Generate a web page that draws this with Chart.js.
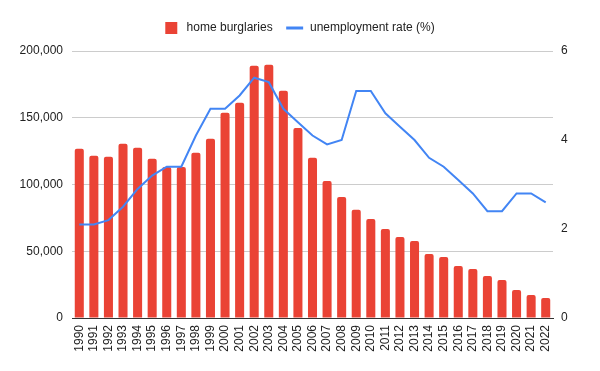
<!DOCTYPE html>
<html>
<head>
<meta charset="utf-8">
<script src="https://cdn.jsdelivr.net/npm/chart.js@4/dist/chart.umd.min.js"></script>
<style>
  html, body { margin: 0; padding: 0; background: #fff; }
  #wrap { width: 600px; height: 371px; }
</style>
</head>
<body>
<div id="wrap"><canvas id="chart" width="600" height="371"></canvas></div>
<script>
// values
var years = ['1990', '1991', '1992', '1993', '1994', '1995', '1996', '1997', '1998', '1999',
  '2000', '2001', '2002', '2003', '2004', '2005', '2006', '2007', '2008', '2009',
  '2010', '2011', '2012', '2013', '2014', '2015', '2016', '2017', '2018', '2019',
  '2020', '2021', '2022'];

var burglaries = [126700, 121500, 120700, 130500, 127500, 119200, 113200, 113200, 123700, 134200,
  153700, 161200, 188900, 189700, 170200, 142400, 120000, 102700, 90700, 81000,
  74200, 66700, 60700, 57700, 48000, 45700, 39000, 36700, 31500, 28500,
  21000, 17200, 15000];

var unemployment = [2.1, 2.1, 2.2, 2.5, 2.9, 3.2, 3.4, 3.4, 4.1, 4.7,
  4.7, 5.0, 5.4, 5.3, 4.7, 4.4, 4.1, 3.9, 4.0, 5.1,
  5.1, 4.6, 4.3, 4.0, 3.6, 3.4, 3.1, 2.8, 2.4, 2.4,
  2.8, 2.8, 2.6];

var FONT = 'Liberation Sans, Arial, sans-serif';
var TEXT = '#222222';

// a bit of extra room under the legend, like the original
var legendPad = {
  id: 'legendPad',
  beforeInit: function (chart) {
    var fit = chart.legend.fit;
    chart.legend.fit = function () {
      fit.bind(chart.legend)();
      this.height += 7;
    };
  }
};

new Chart(document.getElementById('chart'), {
  type: 'bar',
  data: {
    labels: years,
    datasets: [{
      type: 'line',
      label: 'unemployment rate (%)',
      data: unemployment,
      yAxisID: 'y1',
      borderColor: '#4285f4',
      backgroundColor: '#4285f4',
      borderWidth: 2,
      pointRadius: 0,
      tension: 0,
      pointStyle: 'line',
      order: 0
    }, {
      label: 'home burglaries',
      data: burglaries,
      yAxisID: 'y',
      backgroundColor: '#ea4335',
      borderRadius: { topLeft: 2, topRight: 2 },
      borderSkipped: 'bottom',
      barPercentage: 0.62,
      categoryPercentage: 1,
      pointStyle: 'rect',
      order: 1
    }]
  },
  options: {
    responsive: false,
    animation: false,
    layout: { padding: { top: 6 } },
    plugins: {
      tooltip: { enabled: false },
      legend: {
        position: 'top',
        reverse: true,
        labels: {
          usePointStyle: true,
          boxWidth: 12,
          boxHeight: 12,
          padding: 16,
          color: TEXT,
          font: { family: FONT, size: 12 },
          generateLabels: function (chart) {
            var items = Chart.defaults.plugins.legend.labels.generateLabels(chart);
            items.forEach(function (it) {
              it.text = ' ' + it.text;
              if (it.pointStyle === 'line') it.lineWidth = 3;
            });
            return items;
          }
        }
      }
    },
    scales: {
      x: {
        grid: { display: false, drawTicks: false },
        border: { display: true, color: '#333333', width: 1 },
        ticks: {
          color: TEXT, font: { family: FONT, size: 12 },
          minRotation: 90, maxRotation: 90, autoSkip: false, padding: 7
        },
        afterFit: function (s) { s.height = 53; }
      },
      y: {
        position: 'left',
        min: 0, max: 200000,
        grid: { color: '#cccccc', drawTicks: false },
        border: { display: false },
        ticks: {
          stepSize: 50000, color: TEXT, font: { family: FONT, size: 12 }, padding: 9,
          callback: function (v) { return v.toLocaleString('en-US'); }
        },
        afterFit: function (s) { s.width = 72; }
      },
      y1: {
        position: 'right',
        min: 0, max: 6,
        grid: { display: false, drawTicks: false },
        border: { display: false },
        ticks: { stepSize: 2, color: TEXT, font: { family: FONT, size: 12 }, padding: 8 },
        afterFit: function (s) { s.width = 47; }
      }
    }
  },
  plugins: [legendPad]
});
</script>
</body>
</html>
